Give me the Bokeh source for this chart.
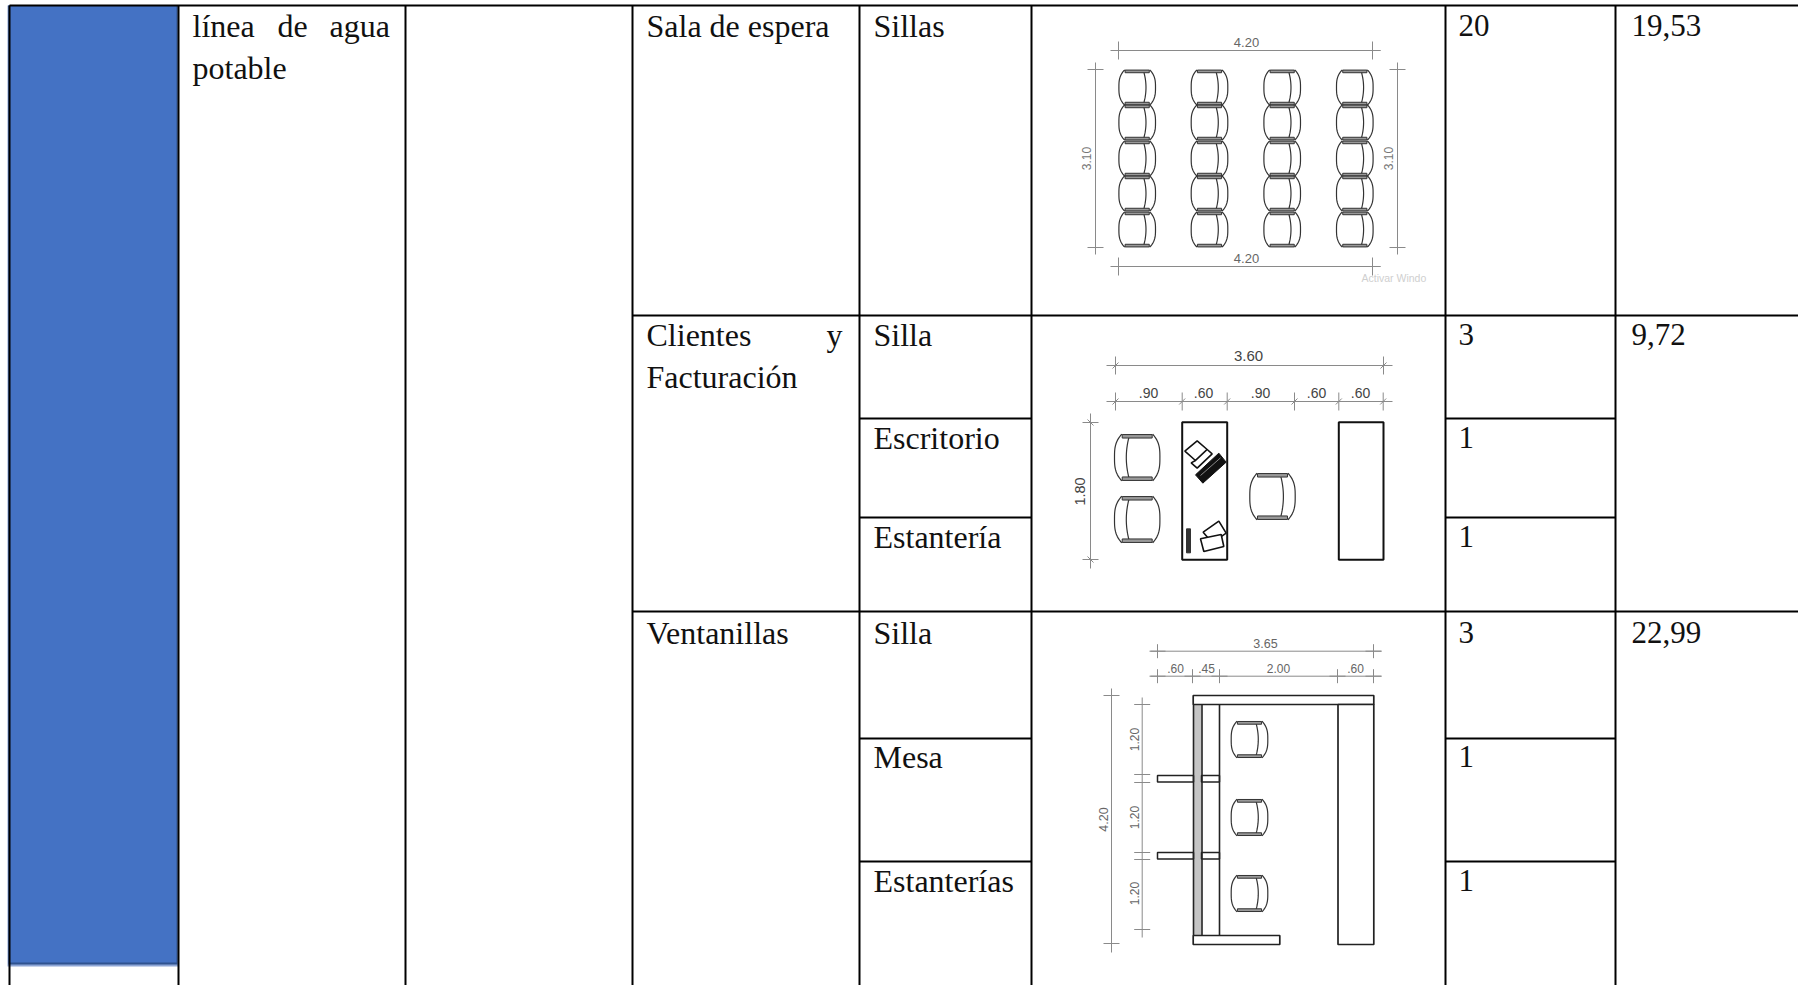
import numpy as np
from bokeh.plotting import figure
from bokeh.embed import file_html
from bokeh.resources import INLINE
from bokeh.core.properties import value

# ---- table content
col2_words = ["línea", "de", "agua"]
col2_word2 = ["potable"]
areas = ["Sala de espera", "Ventanillas"]
area_clients = ["Clientes", "y"]
area_clients2 = ["Facturación"]
furniture_1 = ["Sillas"]
furniture_2 = ["Silla", "Escritorio", "Estantería"]
furniture_3 = ["Silla", "Mesa", "Estanterías"]
counts_1 = ["20"]
counts_2 = ["3", "1", "1"]
counts_3 = ["3", "1", "1"]
totals = ["19,53", "9,72", "22,99"]

# ---- table grid
col_edges = [9, 178, 405, 632, 859, 1031, 1445, 1615]
row_edges = [5, 315, 611]
sub_rows = [418, 517, 738, 861]

FONT = value("Liberation Serif")
DIM = value("Liberation Sans")

p = figure(width=1798, height=985, x_range=(0, 1798), y_range=(985, 0),
           toolbar_location=None, output_backend="svg", min_border=0)
p.axis.visible = False
p.grid.visible = False
p.outline_line_color = None
p.background_fill_color = "white"
p.border_fill_color = "white"

# blue block
p.quad(left=[7], right=[178], top=[5], bottom=[966], fill_color="#8EA6D6", line_color=None)
p.quad(left=[8], right=[177], top=[5], bottom=[964], fill_color="#2F528F", line_color=None)
p.quad(left=[8], right=[176], top=[5], bottom=[962], fill_color="#4472C4", line_color=None)

# grid lines
top_start = col_edges[0]
p.segment(x0=[top_start], y0=[row_edges[0]], x1=[1798], y1=[row_edges[0]], line_color="black", line_width=2)
p.segment(x0=col_edges, y0=[row_edges[0]] * len(col_edges), x1=col_edges, y1=[985] * len(col_edges),
          line_color="black", line_width=2)
p.segment(x0=[col_edges[3]] * 2, y0=row_edges[1:], x1=[1798] * 2, y1=row_edges[1:], line_color="black", line_width=2)
for a, b in ((col_edges[4], col_edges[5]), (col_edges[6], col_edges[7])):
    p.segment(x0=[a] * 4, y0=sub_rows, x1=[b] * 4, y1=sub_rows, line_color="black", line_width=2)


def txt(xs, ys, labels, size=32, font=FONT, color="#111111", align="left", baseline="alphabetic", angle=0):
    p.text(x=xs, y=ys, text=labels, text_font=font, text_font_size=f"{size}px", text_color=color,
           text_align=align, text_baseline=baseline, angle=angle)


txt([192, 277, 329], [25, 25, 25], col2_words)
txt([192], [67], col2_word2)
txt([646, 646], [25, 632], areas)
txt([646, 826], [334, 334], area_clients)
txt([646], [376], area_clients2)
txt([873], [25], furniture_1)
txt([873, 873, 873], [334, 437, 536], furniture_2)
txt([873, 873, 873], [632, 756, 880], furniture_3)
txt([1458], [25], counts_1, size=31)
txt([1458, 1458, 1458], [334, 437, 536], counts_2, size=31)
txt([1458, 1458, 1458], [632, 756, 880], counts_3, size=31)
txt([1631, 1631, 1631], [25, 334, 632], totals, size=31)

# ---- drawing helpers
dl_x, dl_y = [], []       # dimension lines
ln_x, ln_y = [], []       # thin dark lines
hv_x, hv_y = [], []       # heavy lines
ar_l, ar_r, ar_t, ar_b = [], [], [], []


def dim_h(y, x0, x1, ticks, th=9, ext=8, slash=False):
    dl_x.append([x0, x1]); dl_y.append([y, y])
    for t in ticks:
        dl_x.append([t, t]); dl_y.append([y - th, y + th])
        if slash:
            dl_x.append([t - 3, t + 3]); dl_y.append([y + 3, y - 3])
    for t in ticks:
        dl_x.append([t - ext, t + ext]); dl_y.append([y, y])


def dim_v(x, y0, y1, ticks, th=8, slash=False):
    dl_x.append([x, x]); dl_y.append([y0, y1])
    for t in ticks:
        dl_x.append([x - th, x + th]); dl_y.append([t, t])
        if slash:
            dl_x.append([x - 3, x + 3]); dl_y.append([t - 3, t + 3])


def chair(cx, cy, a, b, side=1):
    s = np.linspace(-1, 1, 31)
    bulge = 0.68 + 0.32 * (1 - np.abs(s) ** 3)
    for sgn in (-1, 1):
        ln_x.append(list(cx + sgn * a * bulge)); ln_y.append(list(cy + b * s))
    ln_x.append(list(cx + side * a * (0.36 + 0.12 * (1 - s ** 2)))); ln_y.append(list(cy + b * 0.88 * s))
    half = b * 0.075
    for sgn in (-1, 1):
        yy = cy + sgn * b * 0.91
        ar_l.append(cx - 0.66 * a); ar_r.append(cx + 0.66 * a)
        ar_t.append(yy - half); ar_b.append(yy + half)


# plan 1 : waiting room
chair_cols = [1136.7, 1209, 1281.7, 1354.3]
chair_rows = [87, 122, 158, 193, 229]
for c in chair_cols:
    for r in chair_rows:
        chair(c, r, 18.3, 17.7, 1)
dim_h(50, 1112, 1380, [1118, 1372])
dim_h(266, 1112, 1380, [1118, 1372])
dim_v(1095, 62, 254, [69, 247])
dim_v(1397, 62, 254, [69, 247])
txt([1246, 1246], [42, 258], ["4.20", "4.20"], size=13, font=DIM, color="#666666", align="center", baseline="middle")
txt([1086, 1388], [158, 158], ["3.10", "3.10"], size=12, font=DIM, color="#777777", align="center", baseline="middle", angle=np.pi / 2)
txt([1361], [277], ["Activar Windo"], size=10.5, font=DIM, color="#cfcfcf")

# plan 2 : clients
dim_h(365, 1106, 1392, [1115, 1383], slash=True)
dim_h(401, 1106, 1392, [1115, 1181.7, 1226.7, 1294, 1338.3, 1382.7], slash=True)
dim_v(1090, 413, 568, [422, 559], slash=True)
txt([1248], [355], ["3.60"], size=15, font=DIM, color="#444444", align="center", baseline="middle")
txt([1148, 1203, 1260, 1316, 1360], [392] * 5, [".90", ".60", ".90", ".60", ".60"], size=14, font=DIM, color="#444444", align="center", baseline="middle")
txt([1079], [491], ["1.80"], size=14.5, font=DIM, color="#444444", align="center", baseline="middle", angle=np.pi / 2)
p.quad(left=[1181.7, 1338.3], right=[1226.7, 1383], top=[421.7, 421.7], bottom=[559.3, 559.3],
       fill_color="white", line_color="#111111", line_width=2)
chair(1136.7, 457, 22.7, 23.3, -1)
chair(1136.7, 519, 22.7, 23.3, -1)
chair(1272, 496, 22.7, 23.3, 1)


def zx(v):
    return [1030 + a / 3 for a in v]


def zy(v, o=310):
    return [o + a / 3 for a in v]


p.patches(xs=[zx([463, 500, 530, 495]), zx([530, 545, 500, 482, 495])],
          ys=[zy([422, 391, 417, 450]), zy([417, 430, 473, 457, 450])],
          fill_color="white", line_color="#111111", line_width=1.6)
p.patches(xs=[zx([495, 565, 587, 517])], ys=[zy([493, 428, 455, 518])], fill_color="#111111", line_color="#111111", line_width=1)
p.multi_line(xs=[zx([510, 570])], ys=[zy([495, 442])], line_color="#888888", line_width=1)
p.patches(xs=[zx([468, 480, 480, 468])], ys=[zy([655, 655, 727, 727])], fill_color="#333333", line_color="#333333", line_width=1)
p.patches(xs=[zx([518, 565, 587, 545]), zx([510, 572, 580, 520])],
          ys=[zy([665, 632, 668, 697]), zy([685, 672, 708, 723])],
          fill_color="white", line_color="#111111", line_width=1.6)

# plan 3 : windows
dim_h(650.7, 1150, 1381, [1157, 1373], th=7)
dim_h(675.7, 1150, 1381, [1157, 1192, 1219, 1337, 1373], th=7)
dim_v(1111, 688, 952, [695, 943])
dim_v(1141.7, 697, 937, [704, 774, 782, 852, 859, 929])
txt([1265], [643], ["3.65"], size=12.5, font=DIM, color="#666666", align="center", baseline="middle")
txt([1175, 1206, 1278, 1355], [668] * 4, [".60", ".45", "2.00", ".60"], size=12, font=DIM, color="#666666", align="center", baseline="middle")
txt([1103], [819], ["4.20"], size=12.5, font=DIM, color="#666666", align="center", baseline="middle", angle=np.pi / 2)
txt([1134, 1134, 1134], [739, 817, 893], ["1.20", "1.20", "1.20"], size=12, font=DIM, color="#666666", align="center", baseline="middle", angle=np.pi / 2)

p.quad(left=[1193], right=[1201], top=[704], bottom=[935], fill_color="#c4c4c4", line_color=None)
wx0 = [1157, 1201, 1157, 1201]
wx1 = [1193, 1219, 1193, 1219]
wy0 = [775, 775, 852, 852]
wy1 = [781.5, 781.5, 858.5, 858.5]
p.quad(left=wx0, right=wx1, top=wy0, bottom=wy1, fill_color="white", line_color="#222222", line_width=1.5)
p.quad(left=[1192.7, 1192.7, 1337.5], right=[1373.3, 1279.3, 1373.3], top=[695, 935, 704],
       bottom=[704, 944, 944], fill_color="white", line_color="#222222", line_width=1.7)
hv_x += [[1193, 1193], [1201.5, 1201.5], [1219, 1219]]
hv_y += [[704, 935], [704, 935], [704, 935]]
for cy in (739, 817, 893):
    chair(1249, cy, 18.3, 18.3, 1)

# render collected
p.multi_line(xs=dl_x, ys=dl_y, line_color="#8a8a8a", line_width=1)
p.multi_line(xs=ln_x, ys=ln_y, line_color="#333333", line_width=1.2)
p.multi_line(xs=hv_x, ys=hv_y, line_color="#222222", line_width=1.6)
p.quad(left=ar_l, right=ar_r, top=ar_t, bottom=ar_b, fill_color="#999999", line_color="#333333", line_width=1)

open("out.html", "w").write(file_html(p, INLINE))
